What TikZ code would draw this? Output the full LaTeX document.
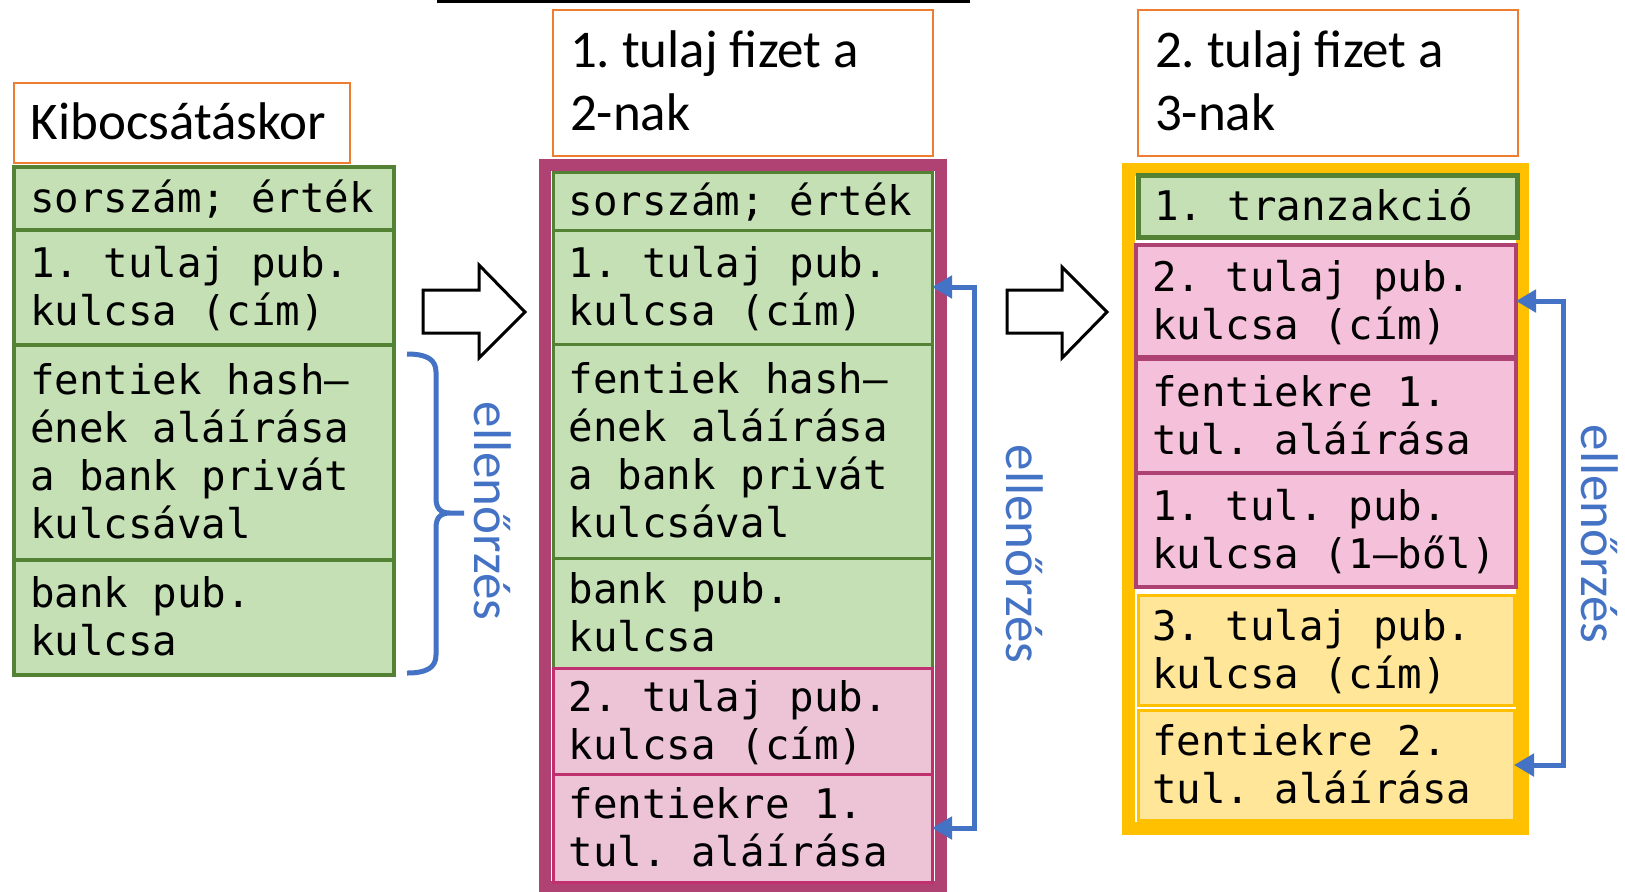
\documentclass[tikz,border=0pt]{standalone}
\usepackage{fontspec}
\setmainfont{Carlito}
\setmonofont{DejaVu Sans Mono}
\usetikzlibrary{arrows.meta}
\hyphenpenalty=10000 \exhyphenpenalty=10000
\frenchspacing
\definecolor{gfill}{HTML}{C5E0B4}
\definecolor{gline}{HTML}{548235}
\definecolor{pfilltwo}{HTML}{EDC3D6}
\definecolor{plinetwo}{HTML}{C0306E}
\definecolor{pfillthree}{HTML}{F5C0D9}
\definecolor{plinethree}{HTML}{AD4172}
\definecolor{purpleframe}{HTML}{B04273}
\definecolor{yfill}{HTML}{FFE699}
\definecolor{yline}{HTML}{FFC000}
\definecolor{hdrline}{HTML}{ED7D31}
\definecolor{vblue}{HTML}{4472C4}
% struts; also restore the font's own word space (TikZ align=left sets .3333em)
\newcommand\mt{\spaceskip=0pt\relax\xspaceskip=0pt\relax\rule{0pt}{17pt}}
\newcommand\mb{\rule[-3pt]{0pt}{3pt}}
\newcommand\htp{\spaceskip=0pt\relax\xspaceskip=0pt\relax\rule{0pt}{20.5pt}}
\newcommand\hbt{\rule[-4.5pt]{0pt}{4.5pt}}
\newcommand\monofont{\ttfamily\fontsize{20.4pt}{24pt}\selectfont\frenchspacing}
% box from (x1,y1) to (x2,y2), pixel units
\newcommand\rowbox[7]{\node[#1, outer sep=0pt, anchor=north west,
  minimum width={(#5-#3)*0.5pt}, minimum height={(#6-#4)*0.5pt}] (#2) at (#3,#4) {#7};}
\tikzset{
  mono/.style={font=\monofont, align=left,
    text width=174pt, inner xsep=0pt, inner ysep=0pt, text=black},
  greenrow/.style={mono, draw=gline, fill=gfill, line width=2pt},
  greenrowtwo/.style={mono, draw=gline, fill=gfill, line width=1.5pt},
  greenrowthree/.style={mono, draw=gline, fill=gfill, line width=2.5pt},
  pinkrowtwo/.style={mono, draw=plinetwo, fill=pfilltwo, line width=1.5pt},
  pinkrowthree/.style={mono, draw=plinethree, fill=pfillthree, line width=2.2pt},
  yellowrow/.style={mono, draw=yline, fill=yfill, line width=1.5pt},
  hdr/.style={font=\frenchspacing\fontsize{26.5pt}{31.5pt}\selectfont, align=left,
    inner xsep=0pt, inner ysep=0pt, draw=hdrline, line width=1pt, fill=white},
  pframe/.style={draw=purpleframe, line width=6pt, inner sep=0pt},
  yframe/.style={draw=yline, line width=6.5pt, inner sep=0pt},
  vlab/.style={rotate=-90, text=vblue, font=\fontsize{26.5pt}{31.5pt}\selectfont, inner sep=0pt},
  vconn/.style={draw=vblue, line width=2.5pt,
    {Triangle[length=10pt,width=11pt]}-{Triangle[length=10pt,width=11pt]}},
  bracestyle/.style={draw=vblue, line width=2.5pt},
  blockarrow/.style={draw=black, line width=1.5pt, fill=white, line join=miter},
}
\begin{document}
\begin{tikzpicture}[x=0.5pt, y=-0.5pt]
\useasboundingbox (0,0) rectangle (1625,891);
% partial frame at top
\draw[line width=1.5pt] (438,-20) rectangle (968,1);

% headers
\rowbox{hdr, text width=151pt}{h1}{13.5}{83}{350}{163}{\htp Kibocsátáskor\hbt}
\rowbox{hdr, text width=173pt}{h2}{553}{10}{933}{156}{\htp 1. tulaj fizet a\\2-nak\hbt}
\rowbox{hdr, text width=173pt}{h3}{1138}{10}{1518}{156}{\htp 2. tulaj fizet a\\3-nak\hbt}

% column 1
\rowbox{greenrow}{a1}{14}{167}{394}{230}{\mt sorszám; érték\mb}
\rowbox{greenrow}{a2}{14}{230}{394}{345}{\mt 1. tulaj pub.\\kulcsa (cím)\mb}
\rowbox{greenrow}{a3}{14}{345}{394}{560}{\mt fentiek hash–\\ének aláírása\\a bank privát\\kulcsával\mb}
\rowbox{greenrow}{a4}{14}{560}{394}{675}{\mt bank pub.\\kulcsa\mb}

% brace
\draw[bracestyle] (407,354) .. controls (426,354) and (436,359) .. (436,372)
  -- (436,498) .. controls (436,508) and (440,513) .. (450,513) -- (464,513)
  (450,513) .. controls (440,513) and (436,518) .. (436,528)
  -- (436,655) .. controls (436,668) and (426,673) .. (407,673);
\node[vlab] (v1) at (493,511) {ellenőrzés};

% arrow 1
\draw[blockarrow] (423,290) -- (479,290) -- (479,265) -- (525,312) -- (479,358) -- (479,333) -- (423,333) -- cycle;

% column 2
\rowbox{pframe}{f2}{544.5}{165}{941}{887}{}
\rowbox{greenrowtwo}{b1}{553}{172}{932}{230}{\mt sorszám; érték\mb}
\rowbox{greenrowtwo}{b2}{553}{230}{932}{344}{\mt 1. tulaj pub.\\kulcsa (cím)\mb}
\rowbox{greenrowtwo}{b3}{553}{344}{932}{558}{\mt fentiek hash–\\ének aláírása\\a bank privát\\kulcsával\mb}
\rowbox{greenrowtwo}{b4}{553}{558}{932}{668}{\mt bank pub.\\kulcsa\mb}
\rowbox{pinkrowtwo}{b5}{553}{668}{932}{774}{\mt 2. tulaj pub.\\kulcsa (cím)\mb}
\rowbox{pinkrowtwo}{b6}{553}{774}{932}{882}{\mt fentiekre 1.\\tul. aláírása\mb}
\draw[vconn] (b2.east) -- ++(42,0) |- (b6.east);
\node[vlab] (v2) at (1025,554) {ellenőrzés};

% arrow 2
\draw[blockarrow] (1007,290) -- (1062,290) -- (1062,267) -- (1107,312) -- (1062,358) -- (1062,333) -- (1007,333) -- cycle;

% column 3
\rowbox{yframe}{f3}{1128.5}{169.5}{1522.5}{828.5}{}
\rowbox{greenrowthree}{c1}{1138.5}{175.5}{1517.5}{237.5}{\mt 1. tranzakció\mb}
\rowbox{pinkrowthree}{c2}{1136}{245}{1516}{357}{\mt 2. tulaj pub.\\kulcsa (cím)\mb}
\rowbox{pinkrowthree}{c3}{1136}{359}{1516}{473}{\mt fentiekre 1.\\tul. aláírása\mb}
\rowbox{pinkrowthree}{c4}{1136}{473}{1516}{587}{\mt 1. tul. pub.\\kulcsa (1–ből)\mb}
\rowbox{yellowrow}{c5}{1138}{595}{1514}{705}{\mt 3. tulaj pub.\\kulcsa (cím)\mb}
\rowbox{yellowrow}{c6}{1138}{710}{1514}{820}{\mt fentiekre 2.\\tul. aláírása\mb}
\draw[vconn] (c2.east) -- ++(47,0) |- (c6.east);
\node[vlab] (v3) at (1600,534) {ellenőrzés};
\end{tikzpicture}
\end{document}
